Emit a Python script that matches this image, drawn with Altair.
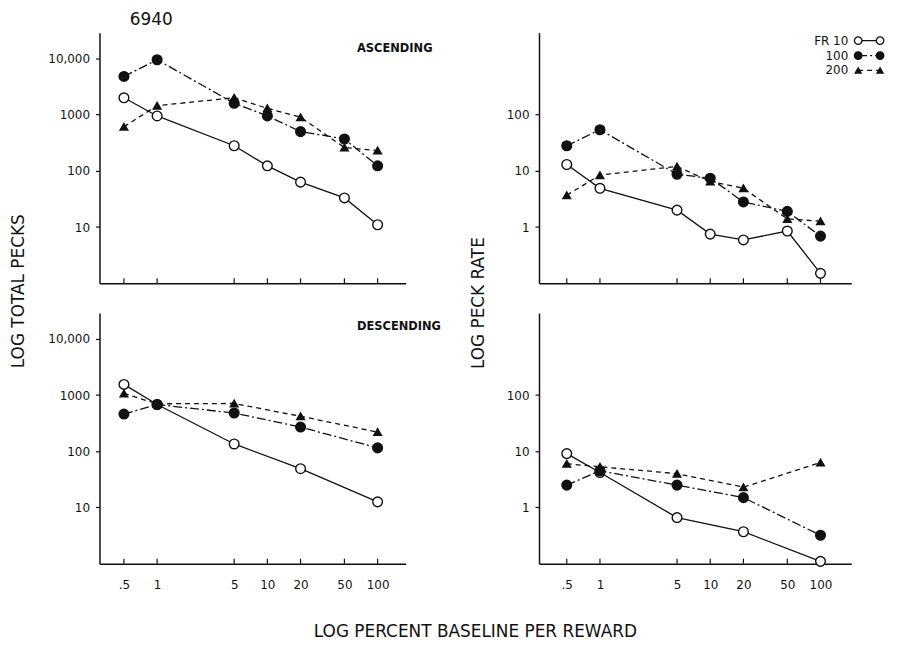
import altair as alt
import pandas as pd

FONT = "DejaVu Sans"
INK = "#111111"
HEIGHT = 252

SERIES = ["FR 10", "100", "200"]
X_ASC = [0.5, 1, 5, 10, 20, 50, 100]
X_DESC = [0.5, 1, 5, 20, 100]

# Ascending: log total pecks
ASC_TOTAL_FR10 = [2000, 950, 280, 123, 63, 33, 11]
ASC_TOTAL_FR100 = [4800, 9500, 1600, 950, 500, 370, 123]
ASC_TOTAL_FR200 = [610, 1450, 2000, 1300, 900, 260, 230]

# Ascending: log peck rate
ASC_RATE_FR10 = [13, 4.9, 2.0, 0.75, 0.59, 0.85, 0.15]
ASC_RATE_FR100 = [28, 54, 8.7, 7.4, 2.8, 1.9, 0.69]
ASC_RATE_FR200 = [3.7, 8.4, 12, 6.5, 4.9, 1.4, 1.27]

# Descending: log total pecks
DESC_TOTAL_FR10 = [1550, 680, 135, 49, 12.6]
DESC_TOTAL_FR100 = [460, 680, 480, 270, 115]
DESC_TOTAL_FR200 = [1070, 700, 710, 420, 220]

# Descending: log peck rate
DESC_RATE_FR10 = [9.1, 4.2, 0.66, 0.37, 0.11]
DESC_RATE_FR100 = [2.5, 4.5, 2.5, 1.5, 0.32]
DESC_RATE_FR200 = [6.0, 5.3, 4.0, 2.3, 6.3]

X_TICKS = [0.5, 1, 5, 10, 20, 50, 100]
X_TICK_LABELS = [".5", "1", "5", "10", "20", "50", "100"]
Y_TICKS_TOTAL = [10, 100, 1000, 10000]
Y_TICK_LABELS_TOTAL = ["10", "100", "1000", "10,000"]
Y_TICKS_RATE = [1, 10, 100]
Y_TICK_LABELS_RATE = ["1", "10", "100"]

DASHES = [None, [9, 3, 2, 3], [5, 4]]
SHAPES = ["circle", "circle", "triangle-up"]
FILLS = ["white", INK, INK]
SIZES = [95, 95, 60]


def label_expr(values, labels):
    expr = "''"
    for v, l in reversed(list(zip(values, labels))):
        expr = f"abs(datum.value - {v}) < 1e-9 ? '{l}' : ({expr})"
    return expr


def text_at(txt, x, y, size, **kw):
    return alt.Chart(pd.DataFrame({"t": [txt]})).mark_text(
        font=FONT, fontSize=size, color=INK, **kw
    ).encode(text="t:N", x=alt.value(x), y=alt.value(y))


def panel(xs, vals_list, ydomain, yticks, ylabels, xdomain, width, show_xlabels, extras):
    xscale = alt.Scale(type="log", domain=xdomain, nice=False)
    yscale = alt.Scale(type="log", domain=ydomain, nice=False)
    xaxis = alt.Axis(values=X_TICKS, labelExpr=label_expr(X_TICKS, X_TICK_LABELS),
                     labels=show_xlabels, ticks=False, grid=False, domainColor=INK,
                     domainWidth=1.5, labelFont=FONT, labelFontSize=12, labelColor=INK,
                     labelPadding=16, title=None)
    yaxis = alt.Axis(values=yticks, labelExpr=label_expr(yticks, ylabels), ticks=True,
                     tickSize=4, tickColor=INK, tickWidth=1.2, grid=False, domainColor=INK,
                     domainWidth=1.5, labelFont=FONT, labelFontSize=12, labelColor=INK,
                     labelPadding=6, title=None)
    X = alt.X("x:Q", scale=xscale, axis=xaxis)
    Y = alt.Y("y:Q", scale=yscale, axis=yaxis)
    layers = [
        alt.Chart(pd.DataFrame({"x": X_TICKS})).mark_rule(color=INK, strokeWidth=1.2).encode(
            x=X, y=alt.value(HEIGHT), y2=alt.value(HEIGHT - 5))
    ]
    for i, vals in enumerate(vals_list):
        kw = {"strokeDash": DASHES[i]} if DASHES[i] else {}
        layers.append(alt.Chart(pd.DataFrame({"x": xs, "y": vals})).mark_line(
            color=INK, strokeWidth=1.3, **kw).encode(x=X, y=Y))
    for i, vals in enumerate(vals_list):
        layers.append(alt.Chart(pd.DataFrame({"x": xs, "y": vals})).mark_point(
            shape=SHAPES[i], size=SIZES[i], filled=True, fill=FILLS[i], stroke=INK,
            strokeWidth=1.4, opacity=1).encode(x=X, y=Y))
    return alt.layer(*layers, *extras).properties(width=width, height=HEIGHT)


def legend_layers(x_text, x1, x2, y0, dy):
    out = []
    for i, s in enumerate(SERIES):
        y = y0 + dy * i
        out.append(text_at(s, x_text, y, 12, align="right", baseline="middle"))
        kw = {"strokeDash": DASHES[i]} if DASHES[i] else {}
        out.append(alt.Chart(pd.DataFrame({"t": [s]})).mark_rule(
            color=INK, strokeWidth=1.3, **kw).encode(
            x=alt.value(x1), x2=alt.value(x2), y=alt.value(y)))
        for xp in (x1, x2):
            out.append(alt.Chart(pd.DataFrame({"t": [s]})).mark_point(
                shape=SHAPES[i], size=SIZES[i] * 0.6, filled=True, fill=FILLS[i],
                stroke=INK, strokeWidth=1.3, opacity=1).encode(
                x=alt.value(xp), y=alt.value(y)))
    return out


LEFT_X = [0.3, 180]
RIGHT_X = [0.28, 190]
TOTAL_Y = [1, 28840]
RATE_Y = [0.1, 2884]

TL = panel(X_ASC, [ASC_TOTAL_FR10, ASC_TOTAL_FR100, ASC_TOTAL_FR200], TOTAL_Y,
           Y_TICKS_TOTAL, Y_TICK_LABELS_TOTAL, LEFT_X, 308, False,
           [text_at("6940", 52, -13, 17, align="center", baseline="middle"),
            text_at("ASCENDING", 259, 16, 11.5, align="left", baseline="middle", fontWeight="bold"),
            text_at("LOG TOTAL PECKS", -81, 260, 17, align="center", baseline="middle", angle=270)])

TR = panel(X_ASC, [ASC_RATE_FR10, ASC_RATE_FR100, ASC_RATE_FR200], RATE_Y,
           Y_TICKS_RATE, Y_TICK_LABELS_RATE, RIGHT_X, 314, False,
           [text_at("LOG PECK RATE", -60, 272, 17, align="center", baseline="middle", angle=270)]
           + legend_layers(311, 321, 343, 8, 15))

BL = panel(X_DESC, [DESC_TOTAL_FR10, DESC_TOTAL_FR100, DESC_TOTAL_FR200], TOTAL_Y,
           Y_TICKS_TOTAL, Y_TICK_LABELS_TOTAL, LEFT_X, 308, True,
           [text_at("DESCENDING", 259, 14, 11.5, align="left", baseline="middle", fontWeight="bold"),
            text_at("LOG PERCENT BASELINE PER REWARD", 378, 321, 17, align="center", baseline="middle")])

BR = panel(X_DESC, [DESC_RATE_FR10, DESC_RATE_FR100, DESC_RATE_FR200], RATE_Y,
           Y_TICKS_RATE, Y_TICK_LABELS_RATE, RIGHT_X, 314, True, [])

chart = alt.concat(TL, TR, BL, BR, columns=2, spacing={"row": 30, "column": 134},
                   bounds="flush").properties(
    padding={"left": 2, "top": 1, "right": 5, "bottom": 5}, background="white"
).configure_view(strokeWidth=0)

chart.save("out.html", embed_options={"renderer": "svg", "actions": False})
